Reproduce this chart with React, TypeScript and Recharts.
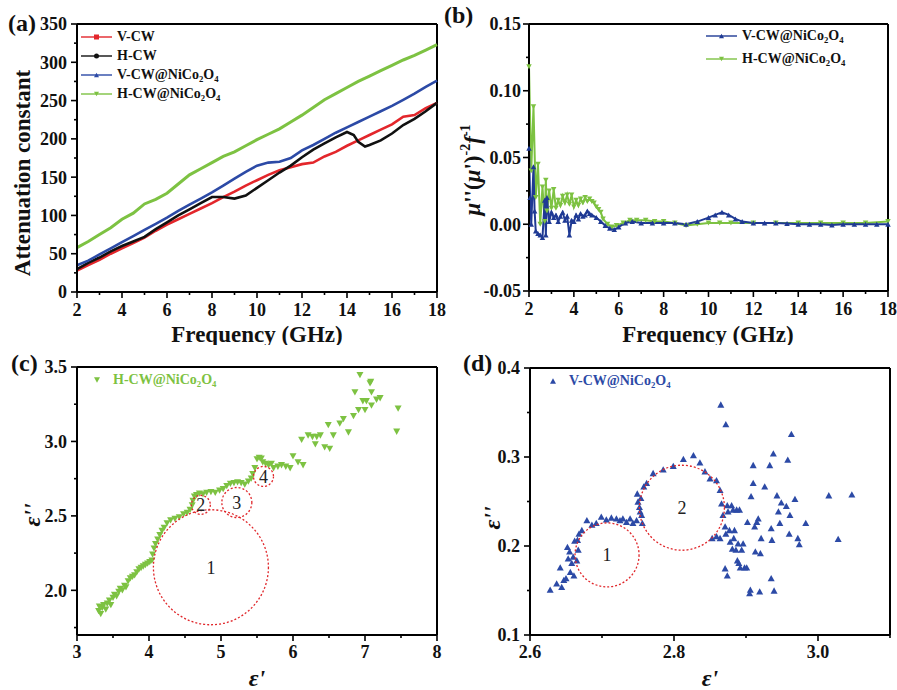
import React from 'react';
import { LineChart, Line, ScatterChart, Scatter, XAxis, YAxis, ReferenceLine, ReferenceDot, Legend } from 'recharts';

const FONT = 'Liberation Serif, Tinos, DejaVu Serif, Noto Serif, FreeSerif, serif';
const RED = '#e3262b';
const BLACK = '#111111';
const BLUE = '#2c4aa6';
const NAVY = '#1f3a94';
const GREEN = '#7dc242';
const CIRCLE = '#e0262a';

// ---------------- Panel (a) : attenuation constant ----------------
const freqA = [2, 2.5, 3, 3.5, 4, 4.5, 5, 5.5, 6, 6.5, 7, 7.5, 8, 8.5, 9, 9.5, 10, 10.5, 11, 11.5, 12, 12.5, 13, 13.5, 14, 14.5, 15, 15.5, 16, 16.5, 17, 17.5, 18];
const vcwA = [28, 35, 42, 50, 57, 64, 71, 80, 88, 95, 102, 109, 116, 124, 131, 139, 146, 153, 159, 163, 167, 169, 177, 183, 191, 198, 205, 212, 219, 229, 231, 240, 247];
const hcwFreqA = [2, 2.5, 3, 3.5, 4, 4.5, 5, 5.5, 6, 6.5, 7, 7.5, 8, 8.5, 9, 9.5, 10, 10.5, 11, 11.5, 12, 12.5, 13, 13.5, 14, 14.3, 14.5, 14.8, 15, 15.5, 16, 16.5, 17, 17.5, 18];
const hcwA = [30, 38, 45, 53, 60, 66, 72, 82, 91, 100, 108, 116, 124, 124, 122, 126, 136, 146, 156, 165, 176, 186, 194, 202, 209, 205, 196, 190, 192, 198, 207, 218, 226, 236, 247];
const vcwNiA = [35, 41, 49, 57, 65, 73, 81, 89, 97, 106, 114, 122, 130, 139, 148, 157, 165, 169, 170, 175, 185, 192, 200, 208, 215, 222, 229, 236, 243, 251, 259, 268, 276];
const hcwNiA = [58, 66, 75, 84, 95, 103, 115, 121, 129, 141, 153, 161, 169, 177, 183, 191, 199, 206, 213, 222, 231, 241, 251, 259, 267, 275, 282, 289, 296, 303, 309, 316, 323];

const freqTicks = [2, 3, 4, 5, 6, 7, 8, 9, 10, 11, 12, 13, 14, 15, 16, 17, 18];
const freqLabels = [2, 4, 6, 8, 10, 12, 14, 16, 18];
const yTicksA = [0, 25, 50, 75, 100, 125, 150, 175, 200, 225, 250, 275, 300, 325, 350];
const yLabelsA = [0, 50, 100, 150, 200, 250, 300, 350];

// ---------------- Panel (b) : mu''(mu')^-2 f^-1 ----------------
const bFreqV = [2.0, 2.05, 2.1, 2.2, 2.25, 2.3, 2.4, 2.5, 2.6, 2.7, 2.75, 2.8, 2.9, 3.0, 3.1, 3.2, 3.3, 3.4, 3.5, 3.6, 3.7, 3.8, 3.9, 4.0, 4.1, 4.2, 4.3, 4.4, 4.5, 4.6, 4.7, 4.8, 5.0, 5.2, 5.4, 5.6, 5.8, 6.0, 6.3, 6.6, 7.0, 7.5, 8.0, 8.5, 9.0, 9.5, 10.0, 10.3, 10.6, 10.9, 11.2, 11.5, 12.0, 12.5, 13, 13.5, 14, 14.5, 15, 15.5, 16, 16.5, 17, 17.5, 18];
const bValV = [0.057, 0.02, 0.0, 0.043, 0.01, -0.005, -0.007, -0.008, -0.01, 0.018, -0.008, 0.02, 0.002, 0.009, 0.005, 0.007, 0.002, 0.006, 0.009, 0.003, 0.006, -0.008, 0.003, 0.002, 0.007, 0.004, 0.008, 0.006, 0.007, 0.01, 0.008, 0.007, 0.005, 0.002, -0.001, -0.003, -0.004, -0.002, 0.001, 0.002, 0.001, 0.001, 0.001, 0.001, 0.0, 0.002, 0.005, 0.007, 0.009, 0.007, 0.004, 0.002, 0.001, 0.001, 0.001, 0.0005, 0.0, 0.0, 0.0, -0.0005, 0.0, 0.0, 0.0, 0.0, 0.0];
const bFreqH = [2.0, 2.1, 2.2, 2.3, 2.4, 2.5, 2.6, 2.7, 2.75, 2.8, 2.9, 3.0, 3.1, 3.2, 3.3, 3.4, 3.5, 3.6, 3.7, 3.8, 3.9, 4.0, 4.1, 4.2, 4.3, 4.4, 4.5, 4.6, 4.7, 4.8, 4.9, 5.0, 5.1, 5.2, 5.3, 5.5, 5.7, 5.9, 6.2, 6.5, 6.8, 7.2, 7.6, 8.0, 8.5, 9.0, 9.5, 10.0, 10.5, 11, 12, 13, 14, 15, 16, 17, 18];
const bValH = [0.118, 0.04, 0.088, 0.02, 0.045, 0.0, 0.028, 0.002, 0.033, 0.01, 0.025, 0.012, 0.026, 0.012, 0.018, 0.014, 0.021, 0.016, 0.022, 0.015, 0.022, 0.013, 0.018, 0.014, 0.019, 0.016, 0.02, 0.017, 0.019, 0.017, 0.016, 0.013, 0.011, 0.009, 0.004, 0.0, -0.002, -0.001, 0.001, 0.003, 0.003, 0.003, 0.002, 0.002, 0.001, -0.001, 0.0, 0.001, 0.001, 0.001, 0.001, 0.001, 0.001, 0.001, 0.001, 0.001, 0.002];
const yTicksB = [-0.05, -0.025, 0, 0.025, 0.05, 0.075, 0.1, 0.125, 0.15];
const yLabelsB = [-0.05, 0, 0.05, 0.1, 0.15];

// ---------------- Panel (c) : Cole-Cole, H-CW@NiCo2O4 ----------------
const cEpsR = [3.30, 3.31, 3.33, 3.35, 3.37, 3.40, 3.42, 3.45, 3.47, 3.50, 3.52, 3.55, 3.58, 3.60, 3.63, 3.66, 3.68, 3.71, 3.74, 3.77, 3.80, 3.83, 3.86, 3.89, 3.92, 3.95, 3.98, 4.01, 4.04, 4.05, 4.07, 4.09, 4.12, 4.15, 4.18, 4.21, 4.25, 4.30, 4.36, 4.42, 4.48, 4.53, 4.57, 4.60, 4.61, 4.63, 4.66, 4.70, 4.75, 4.80, 4.86, 4.92, 4.98, 5.03, 5.08, 5.13, 5.18, 5.23, 5.28, 5.33, 5.38, 5.42, 5.44, 5.47, 5.50, 5.53, 5.56, 5.58, 5.62, 5.66, 5.70, 5.73, 5.79, 5.84, 5.90, 5.96, 6.00, 6.07, 6.14, 6.12, 6.21, 6.27, 6.31, 6.33, 6.38, 6.44, 6.51, 6.49, 6.56, 6.65, 6.70, 6.77, 6.84, 6.86, 6.91, 6.93, 6.97, 7.00, 7.02, 7.07, 7.08, 7.09, 7.09, 7.16, 7.21, 7.46, 7.44];
const cEpsI = [1.86, 1.89, 1.84, 1.88, 1.90, 1.87, 1.91, 1.93, 1.90, 1.95, 1.97, 1.96, 1.99, 2.01, 2.00, 2.03, 2.02, 2.06, 2.08, 2.09, 2.10, 2.12, 2.14, 2.15, 2.16, 2.17, 2.18, 2.19, 2.20, 2.24, 2.28, 2.31, 2.34, 2.37, 2.40, 2.42, 2.45, 2.47, 2.48, 2.49, 2.51, 2.52, 2.54, 2.57, 2.60, 2.63, 2.64, 2.65, 2.645, 2.655, 2.66, 2.655, 2.67, 2.68, 2.70, 2.715, 2.72, 2.725, 2.72, 2.71, 2.73, 2.75, 2.78, 2.82, 2.88, 2.89, 2.885, 2.86, 2.85, 2.84, 2.85, 2.82, 2.83, 2.84, 2.83, 2.82, 2.90, 2.86, 2.84, 3.01, 3.04, 3.03, 2.98, 3.03, 3.04, 2.96, 2.95, 3.11, 3.04, 3.12, 3.15, 3.06, 3.17, 3.33, 3.21, 3.445, 3.27, 3.21, 3.27, 3.39, 3.40, 3.33, 3.24, 3.28, 3.29, 3.22, 3.065];
const cCircleX = [4.86, 4.72, 5.22, 5.59];
const cCircleY = [2.155, 2.574, 2.59, 2.765];
const cCircleLabels = ['1', '2', '3', '4'];
const xTicksC = [3, 3.5, 4, 4.5, 5, 5.5, 6, 6.5, 7, 7.5, 8];
const xLabelsC = [3, 4, 5, 6, 7, 8];
const yTicksC = [1.75, 2.0, 2.25, 2.5, 2.75, 3.0, 3.25, 3.5];
const yLabelsC = [2.0, 2.5, 3.0, 3.5];

// ---------------- Panel (d) : Cole-Cole, V-CW@NiCo2O4 ----------------
const dEpsR = [2.628, 2.637, 2.642, 2.644, 2.647, 2.650, 2.652, 2.653, 2.655, 2.656, 2.658, 2.660, 2.661, 2.662, 2.665, 2.666, 2.667, 2.668, 2.672, 2.679, 2.686, 2.692, 2.699, 2.706, 2.713, 2.720, 2.725, 2.729, 2.734, 2.739, 2.743, 2.748, 2.749, 2.750, 2.752, 2.753, 2.754, 2.755, 2.756, 2.758, 2.762, 2.771, 2.785, 2.799, 2.813, 2.827, 2.836, 2.843, 2.850, 2.859, 2.864, 2.865, 2.872, 2.866, 2.868, 2.871, 2.872, 2.874, 2.875, 2.877, 2.878, 2.880, 2.881, 2.882, 2.883, 2.884, 2.886, 2.887, 2.888, 2.889, 2.890, 2.891, 2.892, 2.894, 2.896, 2.898, 2.901, 2.871, 2.874, 2.864, 2.859, 2.853, 2.902, 2.905, 2.906, 2.907, 2.910, 2.910, 2.912, 2.913, 2.915, 2.917, 2.919, 2.920, 2.921, 2.926, 2.933, 2.935, 2.935, 2.936, 2.938, 2.939, 2.943, 2.945, 2.947, 2.949, 2.956, 2.958, 2.960, 2.961, 2.963, 2.968, 2.972, 2.974, 2.983, 3.015, 3.028, 3.047];
const dEpsI = [0.151, 0.158, 0.176, 0.154, 0.162, 0.164, 0.199, 0.186, 0.194, 0.171, 0.181, 0.188, 0.167, 0.206, 0.184, 0.207, 0.196, 0.214, 0.218, 0.229, 0.224, 0.226, 0.233, 0.230, 0.232, 0.231, 0.229, 0.231, 0.227, 0.231, 0.226, 0.229, 0.259, 0.250, 0.244, 0.239, 0.254, 0.235, 0.226, 0.267, 0.271, 0.282, 0.286, 0.290, 0.298, 0.302, 0.294, 0.284, 0.276, 0.274, 0.263, 0.359, 0.337, 0.248, 0.235, 0.222, 0.214, 0.246, 0.239, 0.218, 0.205, 0.246, 0.197, 0.241, 0.209, 0.218, 0.196, 0.241, 0.184, 0.203, 0.181, 0.241, 0.176, 0.196, 0.203, 0.176, 0.176, 0.175, 0.167, 0.209, 0.211, 0.209, 0.227, 0.147, 0.151, 0.256, 0.291, 0.271, 0.222, 0.194, 0.227, 0.231, 0.149, 0.192, 0.209, 0.267, 0.291, 0.164, 0.220, 0.207, 0.304, 0.150, 0.257, 0.239, 0.226, 0.249, 0.245, 0.297, 0.214, 0.235, 0.326, 0.253, 0.209, 0.202, 0.226, 0.257, 0.208, 0.258];
const dCircleX = [2.707, 2.811];
const dCircleY = [0.190, 0.243];
const dCircleLabels = ['1', '2'];
const xTicksD = [2.6, 2.7, 2.8, 2.9, 3.0, 3.1];
const xLabelsD = [2.6, 2.8, 3.0];
const yTicksD = [0.1, 0.15, 0.2, 0.25, 0.3, 0.35, 0.4];
const yLabelsD = [0.1, 0.2, 0.3, 0.4];

// ---------------- helpers ----------------
const zip = (xs: number[], ys: number[]) => xs.map((x, i) => ({ x, y: ys[i] }));
const near = (arr: number[], v: number) => arr.some((a) => Math.abs(a - v) < 1e-9);
const MAJOR = 6;
const MINOR = 3;
const TICK_FS = 18;

function XTick(props: any) {
  const { x, y, payload, majors, fmt, gap } = props;
  const v = payload.value;
  const major = near(majors, v);
  const y0 = y - gap;
  return (
    <g>
      <line x1={x} x2={x} y1={y0} y2={y0 + (major ? MAJOR : MINOR)} stroke="#000" strokeWidth={1.6} />
      {major && (
        <text x={x} y={y} dy="0.74em" textAnchor="middle" style={{ fontFamily: FONT }} fontWeight="bold" fontSize={TICK_FS} fill="#111">
          {fmt(v)}
        </text>
      )}
    </g>
  );
}

function YTick(props: any) {
  const { x, y, payload, majors, fmt, gap } = props;
  const v = payload.value;
  const major = near(majors, v);
  const x0 = x + gap;
  return (
    <g>
      <line x1={x0} x2={x0 - (major ? MAJOR : MINOR)} y1={y} y2={y} stroke="#000" strokeWidth={1.6} />
      {major && (
        <text x={x} y={y} dy="0.36em" textAnchor="end" style={{ fontFamily: FONT }} fontWeight="bold" fontSize={TICK_FS} fill="#111">
          {fmt(v)}
        </text>
      )}
    </g>
  );
}

const Chem = ({ text }: { text: string }) => {
  const parts = text.split(/(\d)/);
  return (
    <>
      {parts.map((p, i) =>
        /^\d$/.test(p) ? (
          <span key={i} style={{ fontSize: '0.62em', verticalAlign: '-0.3em', lineHeight: 0 }}>{p}</span>
        ) : (
          <span key={i}>{p}</span>
        )
      )}
    </>
  );
};

function Marker({ kind, color, cx, cy, s }: any) {
  if (kind === 'square') return <rect x={cx - s / 2} y={cy - s / 2} width={s} height={s} fill={color} />;
  if (kind === 'circle') return <circle cx={cx} cy={cy} r={s / 2} fill={color} />;
  const h = s * 0.9;
  if (kind === 'up') return <polygon points={`${cx - s / 2},${cy + h / 2} ${cx + s / 2},${cy + h / 2} ${cx},${cy - h / 2}`} fill={color} />;
  return <polygon points={`${cx - s / 2},${cy - h / 2} ${cx + s / 2},${cy - h / 2} ${cx},${cy + h / 2}`} fill={color} />;
}

function LegendBox({ rows, rowH, line, textColor, fs }: any) {
  return (
    <div style={{ fontFamily: FONT, fontWeight: 'bold', fontSize: fs }}>
      {rows.map((r: any, i: number) => (
        <div key={i} style={{ display: 'flex', alignItems: 'center', height: rowH, whiteSpace: 'nowrap' }}>
          <svg width={line ? 31 : 14} height={10} style={{ display: 'block' }}>
            {line && <line x1={0} x2={31} y1={5} y2={5} stroke={r.color} strokeWidth={1.4} />}
            <Marker kind={r.marker} color={r.color} cx={line ? 15.5 : 6} cy={5} s={line ? 5 : 6} />
          </svg>
          <span style={{ marginLeft: line ? 5 : 8, color: textColor || '#111', lineHeight: `${rowH}px` }}>
            <Chem text={r.name} />
          </span>
        </div>
      ))}
    </div>
  );
}

const legendRowsA = [
  { name: 'V-CW', color: RED, marker: 'square' },
  { name: 'H-CW', color: BLACK, marker: 'circle' },
  { name: 'V-CW@NiCo2O4', color: BLUE, marker: 'up' },
  { name: 'H-CW@NiCo2O4', color: GREEN, marker: 'down' },
];
const legendRowsB = [
  { name: 'V-CW@NiCo2O4', color: NAVY, marker: 'up' },
  { name: 'H-CW@NiCo2O4', color: GREEN, marker: 'down' },
];

const TriDot = (props: any) => {
  const { cx, cy, color, dir, s } = props;
  if (cx == null || cy == null) return null;
  return <Marker kind={dir} color={color} cx={cx} cy={cy} s={s} />;
};

const XTitle = (cx: number, cy: number, text: string, italic = false, fs = 23) => () => (
  <text x={cx} y={cy} textAnchor="middle" dominantBaseline="central" fontSize={fs} fontStyle={italic ? 'italic' : 'normal'} fontWeight="bold" fill="#111" style={{ fontFamily: FONT }}>
    {text}
  </text>
);
const YTitle = (cx: number, cy: number, text: string, italic = false, fs = 23) => () => (
  <text x={cx} y={cy} transform={`rotate(-90 ${cx} ${cy})`} textAnchor="middle" dominantBaseline="central" fontSize={fs} fontStyle={italic ? 'italic' : 'normal'} fontWeight="bold" fill="#111" style={{ fontFamily: FONT }}>
    {text}
  </text>
);
const MuTitle = (cx: number, cy: number) => () => (
  <text x={cx} y={cy + 8} transform={`rotate(-90 ${cx} ${cy})`} textAnchor="middle" fontSize={23} fontWeight="bold" fill="#111" style={{ fontFamily: FONT }}>
    <tspan fontStyle="italic">μ</tspan>
    <tspan>''(</tspan>
    <tspan fontStyle="italic">μ</tspan>
    <tspan>')</tspan>
    <tspan fontSize={14} dy={-10}>-2</tspan>
    <tspan fontStyle="italic" dy={10}>f</tspan>
    <tspan fontSize={14} dy={-10}>-1</tspan>
  </text>
);

const panelLetter = (left: number, top: number, t: string) => (
  <div style={{ position: 'absolute', left, top, fontFamily: FONT, fontWeight: 'bold', fontSize: 24, lineHeight: '28px', color: '#111' }}>{t}</div>
);

const fmtInt = (v: number) => String(Math.round(v));
const fmt2 = (v: number) => v.toFixed(2);
const fmt1 = (v: number) => v.toFixed(1);

const axisLine = { stroke: '#000', strokeWidth: 2 };

export default function App() {
  const dataVcw = zip(freqA, vcwA);
  const dataHcw = zip(hcwFreqA, hcwA);
  const dataVcwNi = zip(freqA, vcwNiA);
  const dataHcwNi = zip(freqA, hcwNiA);
  const dataBV = zip(bFreqV, bValV);
  const dataBH = zip(bFreqH, bValH);
  const dataC = zip(cEpsR, cEpsI);
  const dataD = zip(dEpsR, dEpsI);
  const circlesCR = [57.5, 9.5, 15, 10];
  const circlesDR = [32, 42.5];

  const XG = 11; // tickSize + tickMargin for x axes
  const YG = 10;

  return (
    <div style={{ position: 'absolute', left: 0, top: 0, width: 897, height: 690, background: '#fff', overflow: 'hidden', fontFamily: FONT }}>
      {/* (a) */}
      <div style={{ position: 'absolute', left: 0, top: 0 }}>
        <LineChart width={450} height={345} margin={{ top: 24, right: 13, left: 0, bottom: 0 }}>
          <XAxis dataKey="x" type="number" domain={[2, 18]} ticks={freqTicks} interval={0} height={53} axisLine={axisLine} tickLine={false} tickSize={6} tickMargin={5}
            tick={<XTick majors={freqLabels} fmt={fmtInt} gap={XG} />} label={XTitle(257, 334, 'Frequency (GHz)')} allowDuplicatedCategory={false} />
          <YAxis type="number" domain={[0, 350]} ticks={yTicksA} interval={0} width={77} axisLine={axisLine} tickLine={false} tickSize={6} tickMargin={4}
            tick={<YTick majors={yLabelsA} fmt={fmtInt} gap={YG} />} label={YTitle(22, 173, 'Attenuation constant')} />
          <ReferenceLine y={350} stroke="#000" strokeWidth={2} />
          <ReferenceLine x={18} stroke="#000" strokeWidth={2} />
          <Line data={dataVcw} dataKey="y" name="V-CW" stroke={RED} strokeWidth={2.6} dot={false} isAnimationActive={false} />
          <Line data={dataHcw} dataKey="y" name="H-CW" stroke={BLACK} strokeWidth={2.6} dot={false} isAnimationActive={false} />
          <Line data={dataVcwNi} dataKey="y" name="V-CW@NiCo2O4" stroke={BLUE} strokeWidth={2.6} dot={false} isAnimationActive={false} />
          <Line data={dataHcwNi} dataKey="y" name="H-CW@NiCo2O4" stroke={GREEN} strokeWidth={3} dot={false} isAnimationActive={false} />
          <Legend layout="vertical" align="center" verticalAlign="middle"
            wrapperStyle={{ position: 'absolute', left: 81, top: 27, width: 'auto', height: 'auto', margin: 0 }}
            content={() => <LegendBox rows={legendRowsA} rowH={19} line fs={14} />} />
        </LineChart>
      </div>

      {/* (b) */}
      <div style={{ position: 'absolute', left: 440, top: 0 }}>
        <LineChart width={457} height={345} margin={{ top: 24, right: 9, left: 0, bottom: 0 }}>
          <XAxis dataKey="x" type="number" domain={[2, 18]} ticks={freqTicks} interval={0} height={54} axisLine={axisLine} tickLine={false} tickSize={6} tickMargin={5}
            tick={<XTick majors={freqLabels} fmt={fmtInt} gap={XG} />} label={XTitle(268, 334, 'Frequency (GHz)')} allowDuplicatedCategory={false} />
          <YAxis type="number" domain={[-0.05, 0.15]} ticks={yTicksB} interval={0} width={89} axisLine={axisLine} tickLine={false} tickSize={6} tickMargin={2}
            tick={<YTick majors={yLabelsB} fmt={fmt2} gap={8} />} label={MuTitle(32, 170)} />
          <ReferenceLine y={0.15} stroke="#000" strokeWidth={2} />
          <ReferenceLine x={18} stroke="#000" strokeWidth={2} />
          <Line data={dataBH} dataKey="y" name="H-CW@NiCo2O4" stroke={GREEN} strokeWidth={2} isAnimationActive={false}
            dot={<TriDot color={GREEN} dir="down" s={5.5} />} />
          <Line data={dataBV} dataKey="y" name="V-CW@NiCo2O4" stroke={NAVY} strokeWidth={2} isAnimationActive={false}
            dot={<TriDot color={NAVY} dir="up" s={5.5} />} />
          <Legend layout="vertical" align="center" verticalAlign="middle"
            wrapperStyle={{ position: 'absolute', left: 266, top: 24, width: 'auto', height: 'auto', margin: 0 }}
            content={() => <LegendBox rows={legendRowsB} rowH={23} line fs={14} />} />
        </LineChart>
      </div>

      {/* (c) */}
      <div style={{ position: 'absolute', left: 0, top: 340 }}>
        <ScatterChart width={450} height={350} margin={{ top: 27, right: 13, left: 0, bottom: 0 }}>
          <XAxis dataKey="x" type="number" domain={[3, 8]} ticks={xTicksC} interval={0} height={55} axisLine={axisLine} tickLine={false} tickSize={6} tickMargin={4}
            tick={<XTick majors={xLabelsC} fmt={fmtInt} gap={10} />} label={XTitle(257, 338, "ε'", true, 24)} />
          <YAxis dataKey="y" type="number" domain={[1.7, 3.5]} ticks={yTicksC} interval={0} width={77} axisLine={axisLine} tickLine={false} tickSize={6} tickMargin={4}
            tick={<YTick majors={yLabelsC} fmt={fmt1} gap={YG} />} label={YTitle(32, 175, "ε''", true, 24)} />
          <ReferenceLine y={3.5} stroke="#000" strokeWidth={2} />
          <ReferenceLine x={8} stroke="#000" strokeWidth={2} />
          <Scatter data={dataC} name="H-CW@NiCo2O4" fill={GREEN} isAnimationActive={false}
            shape={(p: any) => <Marker kind="down" color={GREEN} cx={p.cx} cy={p.cy} s={7} />} />
          {cCircleX.map((cx, i) => (
            <ReferenceDot key={i} x={cx} y={cCircleY[i]} r={circlesCR[i]} fill="none" stroke={CIRCLE} strokeWidth={1.3} strokeDasharray="2 2"
              label={{ value: cCircleLabels[i], position: 'center', fontSize: 18, fill: '#222', style: { fontFamily: FONT } }} />
          ))}
          <Legend layout="vertical" align="center" verticalAlign="middle"
            wrapperStyle={{ position: 'absolute', left: 91, top: 30, width: 'auto', height: 'auto', margin: 0 }}
            content={() => <LegendBox rows={[{ name: 'H-CW@NiCo2O4', color: GREEN, marker: 'down' }]} rowH={20} textColor={GREEN} fs={14} />} />
        </ScatterChart>
      </div>

      {/* (d) */}
      <div style={{ position: 'absolute', left: 440, top: 340 }}>
        <ScatterChart width={457} height={350} margin={{ top: 28, right: 7, left: 0, bottom: 0 }}>
          <XAxis dataKey="x" type="number" domain={[2.6, 3.1]} ticks={xTicksD} interval={0} height={55} axisLine={axisLine} tickLine={false} tickSize={6} tickMargin={4}
            tick={<XTick majors={xLabelsD} fmt={fmt1} gap={10} />} label={XTitle(270, 338, "ε'", true, 24)} />
          <YAxis dataKey="y" type="number" domain={[0.1, 0.4]} ticks={yTicksD} interval={0} width={90} axisLine={axisLine} tickLine={false} tickSize={6} tickMargin={4}
            tick={<YTick majors={yLabelsD} fmt={fmt1} gap={YG} />} label={YTitle(52, 178, "ε''", true, 24)} />
          <ReferenceLine y={0.4} stroke="#000" strokeWidth={2} />
          <ReferenceLine x={3.1} stroke="#000" strokeWidth={2} />
          <Scatter data={dataD} name="V-CW@NiCo2O4" fill={BLUE} isAnimationActive={false}
            shape={(p: any) => <Marker kind="up" color={BLUE} cx={p.cx} cy={p.cy} s={7} />} />
          {dCircleX.map((cx, i) => (
            <ReferenceDot key={i} x={cx} y={dCircleY[i]} r={circlesDR[i]} fill="none" stroke={CIRCLE} strokeWidth={1.3} strokeDasharray="2 2"
              label={{ value: dCircleLabels[i], position: 'center', fontSize: 18, fill: '#222', style: { fontFamily: FONT } }} />
          ))}
          <Legend layout="vertical" align="center" verticalAlign="middle"
            wrapperStyle={{ position: 'absolute', left: 107, top: 31, width: 'auto', height: 'auto', margin: 0 }}
            content={() => <LegendBox rows={[{ name: 'V-CW@NiCo2O4', color: BLUE, marker: 'up' }]} rowH={20} textColor={BLUE} fs={14} />} />
        </ScatterChart>
      </div>

      {panelLetter(8, 9, '(a)')}
      {panelLetter(444, 1, '(b)')}
      {panelLetter(11, 349, '(c)')}
      {panelLetter(463, 349, '(d)')}
    </div>
  );
}
